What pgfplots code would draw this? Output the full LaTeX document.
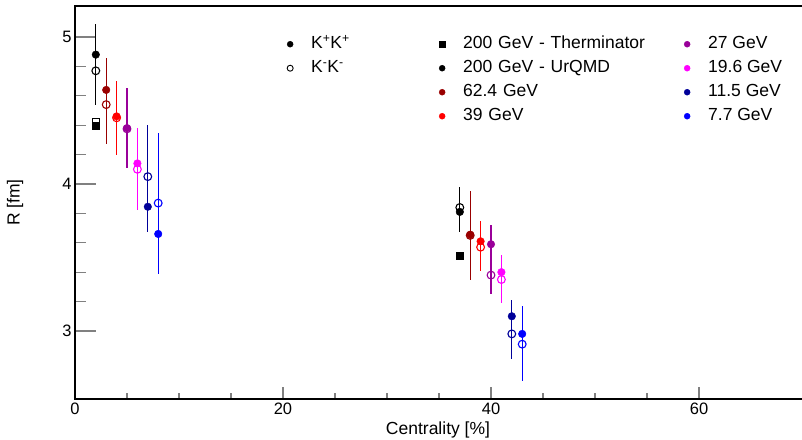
\documentclass[border=0pt]{standalone}
\usepackage{fontspec}
\setmainfont{Liberation Sans}
\usepackage{pgfplots}
\pgfplotsset{compat=1.18}

\definecolor{cSixtyTwo}{RGB}{153,0,0}
\definecolor{cThirtyNine}{RGB}{255,0,0}
\definecolor{cTwentySeven}{RGB}{153,0,153}
\definecolor{cNineteen}{RGB}{255,0,255}
\definecolor{cEleven}{RGB}{0,0,153}
\definecolor{cSeven}{RGB}{0,0,255}

\pgfplotsset{
  kpp/.style={only marks, mark=*, mark size=3.8pt, color=#1,
    error bars/.cd, y dir=both, y explicit, error mark=none,
    error bar style={line width=1.2pt, color=#1}},
  kmm/.style={only marks, mark=o, mark size=3.9pt, color=#1, mark options={line width=1.1pt},
    error bars/.cd, y dir=both, y explicit, error mark=none,
    error bar style={line width=1.2pt, color=#1}},
}

\begin{document}
\begin{tikzpicture}
\useasboundingbox (-75pt,-40pt) rectangle (727pt,399pt);
\begin{axis}[
  at={(0pt,0pt)}, anchor=south west,
  scale only axis, width=738.4pt, height=393pt,
  xmin=0, xmax=71, ymin=2.537, ymax=5.211,
  axis line style={line width=1.2pt},
  xtick={0,20,40,60}, minor x tick num=3,
  ytick={3,4,5}, minor y tick num=4,
  xtick pos=bottom, ytick pos=left,
  xtick style={line width=1.1pt, /pgfplots/major tick length=12pt, /pgfplots/minor tick length=6pt},
  ytick style={line width=1.1pt, /pgfplots/major tick length=21pt, /pgfplots/minor tick length=11pt},
  tick label style={font=\fontsize{16.5}{18}\selectfont},
  /pgf/number format/assume math mode=true,
  xlabel={Centrality [\%]}, ylabel={R [fm]},
  label style={font=\fontsize{17.5}{20}\selectfont},
  xlabel style={at={(axis description cs:0.4916,-0.079)}, anchor=center},
  ylabel style={at={(axis description cs:-0.081,0.5)}, anchor=center},
  legend columns=3,
  legend cell align=left,
  legend image code/.code={\path[draw=none, fill=none] (-6pt,-3pt) rectangle (21pt,3pt); \draw[#1] plot coordinates {(0pt,0pt)};},
  legend style={at={(axis description cs:0.2830,0.9249)}, anchor=north west,
    draw=none, fill=none, inner sep=0pt, column sep=0pt, row sep=7pt,
    nodes={inner sep=0pt, text height=13pt, text depth=4pt},
    font=\fontsize{17.5}{20}\selectfont},
]
% legend, row by row
\addlegendimage{mark=*, mark size=3pt, black}
\addlegendentry[text width=125pt]{K\textsuperscript{+}K\textsuperscript{+}}
\addlegendimage{mark=square*, mark size=3.2pt, black}
\addlegendentry[text width=218pt]{200 GeV - Therminator}
\addlegendimage{mark=*, mark size=3pt, cTwentySeven}
\addlegendentry{27 GeV}
\addlegendimage{mark=o, mark size=3pt, black, mark options={line width=0.9pt}}
\addlegendentry[text width=125pt]{K\textsuperscript{-}K\textsuperscript{-}}
\addlegendimage{mark=*, mark size=3pt, black}
\addlegendentry[text width=218pt]{200 GeV - UrQMD}
\addlegendimage{mark=*, mark size=3pt, cNineteen}
\addlegendentry{19.6 GeV}
\addlegendimage{empty legend}
\addlegendentry{}
\addlegendimage{mark=*, mark size=3pt, cSixtyTwo}
\addlegendentry[text width=218pt]{62.4 GeV}
\addlegendimage{mark=*, mark size=3pt, cEleven}
\addlegendentry{11.5 GeV}
\addlegendimage{empty legend}
\addlegendentry{}
\addlegendimage{mark=*, mark size=3pt, cThirtyNine}
\addlegendentry[text width=218pt]{39 GeV}
\addlegendimage{mark=*, mark size=3pt, cSeven}
\addlegendentry{7.7 GeV}

% Therminator 200 GeV
\addplot[forget plot, only marks, mark=square, mark size=3.7pt, mark options={line width=1.1pt}, black]
  coordinates {(2,4.42)};
\addplot[forget plot, only marks, mark=square*, mark size=3.7pt, black]
  coordinates {(2,4.395) (37,3.51)};

% UrQMD 200 GeV
\addplot[forget plot, kmm=black] coordinates {(2,4.77) +- (0,0.23) (37,3.84) +- (0,0.14)};
\addplot[forget plot, kpp=black] coordinates {(2,4.88) +- (0,0.21) (37,3.81) +- (0,0.14)};

% 62.4 GeV
\addplot[forget plot, kmm=cSixtyTwo] coordinates {(3,4.54) +- (0,0.265) (38,3.65) +- (0,0.30)};
\addplot[forget plot, kpp=cSixtyTwo] coordinates {(3,4.64) +- (0,0.22) (38,3.655) +- (0,0.30)};

% 39 GeV
\addplot[forget plot, kmm=cThirtyNine] coordinates {(4,4.45) +- (0,0.25) (39,3.57) +- (0,0.16)};
\addplot[forget plot, kpp=cThirtyNine] coordinates {(4,4.46) +- (0,0.24) (39,3.61) +- (0,0.14)};

% 27 GeV
\addplot[forget plot, kmm=cTwentySeven] coordinates {(5,4.375) +- (0,0.265) (40,3.38) +- (0,0.13)};
\addplot[forget plot, kpp=cTwentySeven] coordinates {(5,4.38) +- (0,0.27) (40,3.59) +- (0,0.13)};

% 19.6 GeV
\addplot[forget plot, kmm=cNineteen] coordinates {(6,4.10) +- (0,0.28) (41,3.35) +- (0,0.16)};
\addplot[forget plot, kpp=cNineteen] coordinates {(6,4.14) +- (0,0.24) (41,3.40) +- (0,0.12)};

% 11.5 GeV
\addplot[forget plot, kmm=cEleven] coordinates {(7,4.05) +- (0,0.35) (42,2.98) +- (0,0.17)};
\addplot[forget plot, kpp=cEleven] coordinates {(7,3.845) +- (0,0.17) (42,3.10) +- (0,0.11)};

% 7.7 GeV
\addplot[forget plot, kmm=cSeven] coordinates {(8,3.87) +- (0,0.48) (43,2.91) +- (0,0.25)};
\addplot[forget plot, kpp=cSeven] coordinates {(8,3.66) +- (0,0.27) (43,2.98) +- (0,0.19)};
\end{axis}
\end{tikzpicture}
\end{document}
